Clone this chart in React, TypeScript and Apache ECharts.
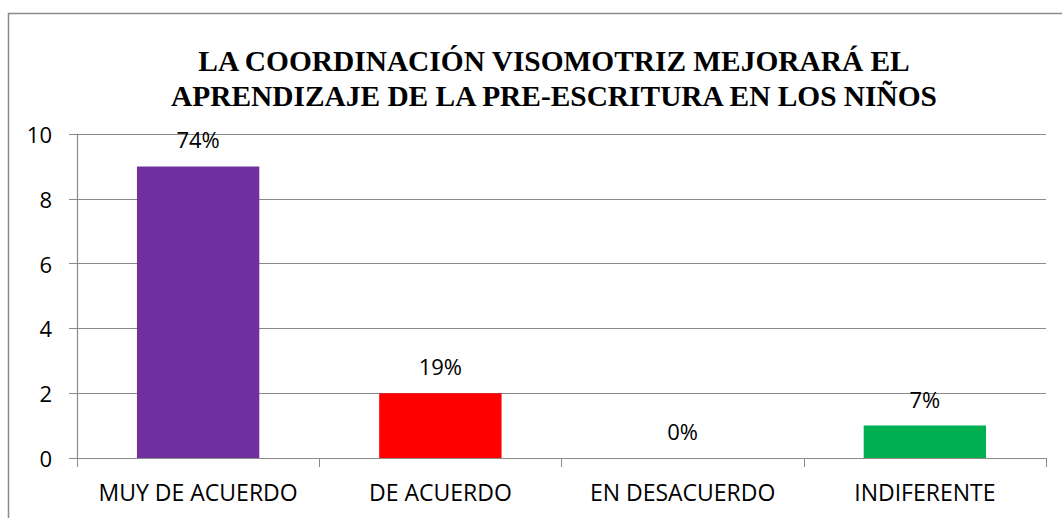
import React, { useEffect, useRef } from "react";
import * as echarts from "echarts";

const categories = ["MUY DE ACUERDO", "DE ACUERDO", "EN DESACUERDO", "INDIFERENTE"];
const values = [9, 2, 0, 1];
const percentLabels = ["74%", "19%", "0%", "7%"];
const barColors = ["#7030A0", "#FF0000", "#7030A0", "#00B050"];
const yTicks = { min: 0, max: 10, interval: 2 };
const titleLines = [
  "LA COORDINACIÓN VISOMOTRIZ MEJORARÁ EL",
  "APRENDIZAJE DE LA PRE-ESCRITURA EN LOS NIÑOS",
];

export default function App() {
  const ref = useRef<HTMLDivElement>(null);
  useEffect(() => {
    if (!ref.current) return;
    const chart = echarts.init(ref.current, undefined, { renderer: "svg" });
    const labelFont = "Open Sans";
    chart.setOption({
      animation: false,
      backgroundColor: "#ffffff",
      title: {
        text: titleLines.join("\n"),
        left: 549,
        top: 38,
        textAlign: "center",
        textStyle: {
          fontFamily: "Liberation Serif, Times New Roman, serif",
          fontWeight: "bold",
          fontSize: 29.4,
          lineHeight: 35,
          color: "#000",
        },
      },
      graphic: [
        {
          type: "rect",
          shape: { x: 8.5, y: 13.5, width: 1100, height: 600 },
          style: { fill: "none", stroke: "#8a8a8a", lineWidth: 1.5 },
          silent: true,
        },
      ],
      grid: { left: 77, right: 16, top: 134, bottom: 60, containLabel: false },
      xAxis: {
        type: "category",
        data: categories,
        axisLine: { lineStyle: { color: "#8a8a8a", width: 1.2 } },
        axisTick: { show: true, length: 9, alignWithLabel: false, lineStyle: { color: "#8a8a8a" } },
        axisLabel: { color: "#000", fontSize: 23, fontFamily: labelFont, margin: 22, interval: 0 },
      },
      yAxis: {
        type: "value",
        min: yTicks.min,
        max: yTicks.max,
        interval: yTicks.interval,
        axisLine: { show: true, lineStyle: { color: "#8a8a8a", width: 1.2 } },
        axisTick: { show: true, length: 8, lineStyle: { color: "#8a8a8a" } },
        splitLine: { show: true, lineStyle: { color: "#8a8a8a", width: 1.2 } },
        axisLabel: { color: "#000", fontSize: 22, fontFamily: labelFont, margin: 25 },
      },
      series: [
        {
          type: "bar",
          barWidth: "50.5%",
          data: values.map((v, i) => ({
            value: v,
            itemStyle: { color: barColors[i] },
            label: { formatter: percentLabels[i] },
          })),
          label: {
            show: true,
            position: "top",
            distance: 16,
            color: "#000",
            fontSize: 22,
            fontFamily: labelFont,
          },
        },
      ],
    });
    return () => chart.dispose();
  }, []);
  return (
    <div
      ref={ref}
      style={{ position: "fixed", left: 0, top: 0, width: 1062, height: 518 }}
    />
  );
}
